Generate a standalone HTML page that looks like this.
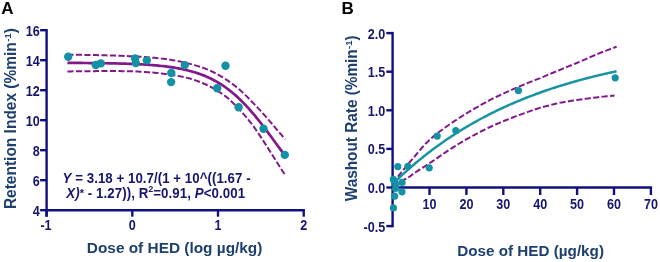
<!DOCTYPE html>
<html><head><meta charset="utf-8"><style>
html,body{margin:0;padding:0;background:#fff;width:660px;height:262px;overflow:hidden}
svg{display:block;font-family:"Liberation Sans",sans-serif;will-change:transform;filter:blur(0.35px)}
</style></head><body>
<svg width="660" height="262" viewBox="0 0 660 262">
<text x="1.2" y="13.6" font-size="17" font-weight="bold" fill="#000">A</text>
<text x="341.5" y="13.6" font-size="17" font-weight="bold" fill="#000">B</text>
<g stroke="#10107e" stroke-width="2.4" fill="none" stroke-linecap="butt">
<path d="M46.6,28.99999999999999 V216.7"/>
<path d="M45.4,210.2 H304.90000000000003"/>
<path d="M40.1,210.2 H46.6"/>
<path d="M40.1,180.2 H46.6"/>
<path d="M40.1,150.2 H46.6"/>
<path d="M40.1,120.19999999999999 H46.6"/>
<path d="M40.1,90.19999999999999 H46.6"/>
<path d="M40.1,60.19999999999999 H46.6"/>
<path d="M40.1,30.19999999999999 H46.6"/>
<path d="M46.6,210.2 V216.7"/>
<path d="M132.3,210.2 V216.7"/>
<path d="M218.0,210.2 V216.7"/>
<path d="M303.70000000000005,210.2 V216.7"/>
</g>
<g font-size="14" font-weight="bold" fill="#16166e" text-anchor="end">
<text transform="translate(39.7,215.60) scale(0.9,1)">4</text>
<text transform="translate(39.7,185.60) scale(0.9,1)">6</text>
<text transform="translate(39.7,155.60) scale(0.9,1)">8</text>
<text transform="translate(39.7,125.60) scale(0.9,1)">10</text>
<text transform="translate(39.7,95.60) scale(0.9,1)">12</text>
<text transform="translate(39.7,65.60) scale(0.9,1)">14</text>
<text transform="translate(39.7,35.60) scale(0.9,1)">16</text>
</g>
<g font-size="14" font-weight="bold" fill="#16166e" text-anchor="middle">
<text transform="translate(46.00,230.0) scale(0.9,1)">-1</text>
<text transform="translate(132.30,230.0) scale(0.9,1)">0</text>
<text transform="translate(218.00,230.0) scale(0.9,1)">1</text>
<text transform="translate(303.70,230.0) scale(0.9,1)">2</text>
</g>
<text transform="translate(174.6,253.3) scale(1,1.0)" font-size="15.4" font-weight="bold" fill="#1e406f" text-anchor="middle">Dose of HED (log µg/kg)</text>
<text transform="translate(15.7,118.6) rotate(-90) scale(1.006,1.04)" font-size="15.4" font-weight="bold" fill="#1e406f" text-anchor="middle">Retention Index (%min<tspan font-size="9.5" dx="0.4" dy="-4.9">-1</tspan><tspan dy="4.9">)</tspan></text>
<g font-size="13.3" font-weight="bold" fill="#16166e">
<text transform="translate(62.6,182.6) scale(1,1.04)" textLength="188" lengthAdjust="spacing"><tspan font-style="italic">Y</tspan> = 3.18 + 10.7/(1 + 10^((1.67 -</text>
<text transform="translate(66.2,197.6) scale(1,1.04)" textLength="179" lengthAdjust="spacing"><tspan font-style="italic">X)</tspan><tspan font-size="11" dy="-0.8">*</tspan><tspan dy="0.8"> - 1.27)), R</tspan><tspan font-size="8.5" dy="-5">2</tspan><tspan dy="5">=0.91, </tspan><tspan font-style="italic">P</tspan>&lt;0.001</text>
</g>
<g fill="none" stroke="#82188c" stroke-width="2.0">
<path d="M67.43,62.88 L69.24,62.89 L71.05,62.90 L72.87,62.91 L74.68,62.92 L76.50,62.93 L78.31,62.94 L80.12,62.95 L81.94,62.97 L83.75,62.98 L85.56,63.00 L87.38,63.01 L89.19,63.03 L91.01,63.04 L92.82,63.06 L94.63,63.08 L96.45,63.11 L98.26,63.13 L100.08,63.15 L101.89,63.18 L103.70,63.20 L105.52,63.23 L107.33,63.26 L109.15,63.30 L110.96,63.33 L112.77,63.37 L114.59,63.41 L116.40,63.45 L118.22,63.49 L120.03,63.54 L121.84,63.59 L123.66,63.65 L125.47,63.70 L127.29,63.76 L129.10,63.83 L130.91,63.90 L132.73,63.97 L134.54,64.04 L136.36,64.13 L138.17,64.21 L139.98,64.31 L141.80,64.40 L143.61,64.51 L145.43,64.62 L147.24,64.74 L149.05,64.86 L150.87,65.00 L152.68,65.14 L154.50,65.29 L156.31,65.45 L158.12,65.62 L159.94,65.80 L161.75,65.99 L163.57,66.19 L165.38,66.40 L167.19,66.63 L169.01,66.87 L170.82,67.13 L172.64,67.40 L174.45,67.69 L176.26,67.99 L178.08,68.32 L179.89,68.66 L181.71,69.02 L183.52,69.40 L185.33,69.81 L187.15,70.24 L188.96,70.69 L190.78,71.18 L192.59,71.68 L194.40,72.22 L196.22,72.79 L198.03,73.38 L199.85,74.02 L201.66,74.68 L203.47,75.38 L205.29,76.12 L207.10,76.90 L208.92,77.72 L210.73,78.58 L212.54,79.48 L214.36,80.44 L216.17,81.43 L217.99,82.48 L219.80,83.57 L221.61,84.72 L223.43,85.92 L225.24,87.17 L227.06,88.48 L228.87,89.85 L230.68,91.27 L232.50,92.75 L234.31,94.28 L236.13,95.88 L237.94,97.53 L239.75,99.25 L241.57,101.02 L243.38,102.85 L245.20,104.74 L247.01,106.68 L248.82,108.68 L250.64,110.73 L252.45,112.84 L254.27,114.99 L256.08,117.19 L257.89,119.43 L259.71,121.71 L261.52,124.03 L263.34,126.39 L265.15,128.77 L266.96,131.18 L268.78,133.61 L270.59,136.06 L272.41,138.52 L274.22,140.99 L276.03,143.46 L277.85,145.93 L279.66,148.40 L281.48,150.85 L283.29,153.29 L285.10,155.70" stroke-width="2.7"/>
<path d="M67.43,54.63 L69.24,54.66 L71.05,54.69 L72.87,54.71 L74.68,54.74 L76.50,54.77 L78.31,54.79 L80.12,54.82 L81.94,54.85 L83.75,54.88 L85.56,54.91 L87.38,54.95 L89.19,54.98 L91.01,55.01 L92.82,55.05 L94.63,55.09 L96.45,55.12 L98.26,55.16 L100.08,55.20 L101.89,55.25 L103.70,55.29 L105.52,55.34 L107.33,55.38 L109.15,55.43 L110.96,55.49 L112.77,55.54 L114.59,55.59 L116.40,55.65 L118.22,55.71 L120.03,55.78 L121.84,55.85 L123.66,55.92 L125.47,55.99 L127.29,56.07 L129.10,56.15 L130.91,56.23 L132.73,56.32 L134.54,56.42 L136.36,56.52 L138.17,56.62 L139.98,56.73 L141.80,56.85 L143.61,56.97 L145.43,57.10 L147.24,57.24 L149.05,57.38 L150.87,57.53 L152.68,57.69 L154.50,57.86 L156.31,58.04 L158.12,58.22 L159.94,58.42 L161.75,58.63 L163.57,58.85 L165.38,59.08 L167.19,59.33 L169.01,59.59 L170.82,59.86 L172.64,60.15 L174.45,60.46 L176.26,60.78 L178.08,61.12 L179.89,61.48 L181.71,61.86 L183.52,62.27 L185.33,62.69 L187.15,63.14 L188.96,63.61 L190.78,64.11 L192.59,64.62 L194.40,65.10 L196.22,65.60 L198.03,66.13 L199.85,66.70 L201.66,67.30 L203.47,67.94 L205.29,68.62 L207.10,69.33 L208.92,70.09 L210.73,70.88 L212.54,71.73 L214.36,72.61 L216.17,73.55 L217.99,74.53 L219.80,75.56 L221.61,76.64 L223.43,77.78 L225.24,78.97 L227.06,80.19 L228.87,81.39 L230.68,82.66 L232.50,83.98 L234.31,85.36 L236.13,86.79 L237.94,88.29 L239.75,89.84 L241.57,91.46 L243.38,93.13 L245.20,94.86 L247.01,96.64 L248.82,98.48 L250.64,100.38 L252.45,102.30 L254.27,104.12 L256.08,105.99 L257.89,107.89 L259.71,109.84 L261.52,111.83 L263.34,113.85 L265.15,115.90 L266.96,117.98 L268.78,120.07 L270.59,122.19 L272.41,124.31 L274.22,126.45 L276.03,128.59 L277.85,130.72 L279.66,132.85 L281.48,134.97 L283.29,137.07 L285.10,139.20" stroke-dasharray="6.1,2.4"/>
<path d="M67.43,71.43 L69.24,71.40 L71.05,71.38 L72.87,71.35 L74.68,71.33 L76.50,71.31 L78.31,71.29 L80.12,71.26 L81.94,71.24 L83.75,71.22 L85.56,71.21 L87.38,71.19 L89.19,71.17 L91.01,71.16 L92.82,71.14 L94.63,71.13 L96.45,71.12 L98.26,71.10 L100.08,71.10 L101.89,71.09 L103.70,71.08 L105.52,71.08 L107.33,71.07 L109.15,71.07 L110.96,71.07 L112.77,71.08 L114.59,71.08 L116.40,71.09 L118.22,71.10 L120.03,71.12 L121.84,71.13 L123.66,71.15 L125.47,71.18 L127.29,71.21 L129.10,71.24 L130.91,71.27 L132.73,71.32 L134.54,71.41 L136.36,71.50 L138.17,71.59 L139.98,71.69 L141.80,71.80 L143.61,71.92 L145.43,72.04 L147.24,72.16 L149.05,72.30 L150.87,72.44 L152.68,72.59 L154.50,72.75 L156.31,72.92 L158.12,73.10 L159.94,73.28 L161.75,73.48 L163.57,73.70 L165.38,73.92 L167.19,74.16 L169.01,74.41 L170.82,74.67 L172.64,74.95 L174.45,75.25 L176.26,75.56 L178.08,75.89 L179.89,76.25 L181.71,76.62 L183.52,77.01 L185.33,77.43 L187.15,77.86 L188.96,78.33 L190.78,78.82 L192.59,79.34 L194.40,79.95 L196.22,80.59 L198.03,81.26 L199.85,81.96 L201.66,82.70 L203.47,83.47 L205.29,84.28 L207.10,85.13 L208.92,86.02 L210.73,86.96 L212.54,87.93 L214.36,88.95 L216.17,90.02 L217.99,91.14 L219.80,92.31 L221.61,93.53 L223.43,94.80 L225.24,96.12 L227.06,97.54 L228.87,99.11 L230.68,100.75 L232.50,102.44 L234.31,104.19 L236.13,105.99 L237.94,107.86 L239.75,109.79 L241.57,111.77 L243.38,113.81 L245.20,115.91 L247.01,118.07 L248.82,120.28 L250.64,122.54 L252.45,124.87 L254.27,127.44 L256.08,130.04 L257.89,132.70 L259.71,135.39 L261.52,138.12 L263.34,140.88 L265.15,143.68 L266.96,146.50 L268.78,149.34 L270.59,152.19 L272.41,155.06 L274.22,157.94 L276.03,160.82 L277.85,163.70 L279.66,166.58 L281.48,169.44 L283.29,172.28 L285.10,175.05" stroke-dasharray="6.1,2.4"/>
</g>
<g fill="#1591a6">
<circle cx="68.2" cy="56.8" r="4.2"/>
<circle cx="95.8" cy="65" r="4.2"/>
<circle cx="100.8" cy="63.4" r="4.2"/>
<circle cx="135.1" cy="58.5" r="4.2"/>
<circle cx="135.8" cy="63.1" r="4.2"/>
<circle cx="146.8" cy="60.4" r="4.2"/>
<circle cx="171.3" cy="73" r="4.2"/>
<circle cx="171.1" cy="82.1" r="4.2"/>
<circle cx="184.8" cy="65.1" r="4.2"/>
<circle cx="217.2" cy="88.3" r="4.2"/>
<circle cx="225.5" cy="65.8" r="4.2"/>
<circle cx="238.6" cy="107.3" r="4.2"/>
<circle cx="263.5" cy="128.8" r="4.2"/>
<circle cx="284.8" cy="154.9" r="4.2"/>
</g>
<g stroke="#10107e" stroke-width="2.4" fill="none">
<path d="M392.6,31.899999999999995 V227.29999999999998"/>
<path d="M392.6,187.5 H652.1000000000001"/>
<path d="M386.3,226.10 H392.6"/>
<path d="M386.3,187.50 H392.6"/>
<path d="M386.3,148.90 H392.6"/>
<path d="M386.3,110.30 H392.6"/>
<path d="M386.3,71.70 H392.6"/>
<path d="M386.3,33.10 H392.6"/>
<path d="M429.50,187.5 V195.0"/>
<path d="M466.40,187.5 V195.0"/>
<path d="M503.30,187.5 V195.0"/>
<path d="M540.20,187.5 V195.0"/>
<path d="M577.10,187.5 V195.0"/>
<path d="M614.00,187.5 V195.0"/>
<path d="M650.90,187.5 V195.0"/>
</g>
<g font-size="14" font-weight="bold" fill="#16166e" text-anchor="end">
<text transform="translate(385.3,231.50) scale(0.9,1)">-0.5</text>
<text transform="translate(385.3,192.90) scale(0.9,1)">0.0</text>
<text transform="translate(385.3,154.30) scale(0.9,1)">0.5</text>
<text transform="translate(385.3,115.70) scale(0.9,1)">1.0</text>
<text transform="translate(385.3,77.10) scale(0.9,1)">1.5</text>
<text transform="translate(385.3,38.50) scale(0.9,1)">2.0</text>
</g>
<g font-size="14" font-weight="bold" fill="#16166e" text-anchor="middle">
<text transform="translate(429.50,209.0) scale(0.9,1)">10</text>
<text transform="translate(466.40,209.0) scale(0.9,1)">20</text>
<text transform="translate(503.30,209.0) scale(0.9,1)">30</text>
<text transform="translate(540.20,209.0) scale(0.9,1)">40</text>
<text transform="translate(577.10,209.0) scale(0.9,1)">50</text>
<text transform="translate(614.00,209.0) scale(0.9,1)">60</text>
<text transform="translate(650.90,209.0) scale(0.9,1)">70</text>
</g>
<text transform="translate(530.6,255.5) scale(0.99,1.0)" font-size="15.4" font-weight="bold" fill="#1e406f" text-anchor="middle">Dose of HED (µg/kg)</text>
<text transform="translate(357.2,118.3) rotate(-90) scale(0.997,1.04)" font-size="15.4" font-weight="bold" fill="#1e406f" text-anchor="middle">Washout Rate (%min<tspan font-size="9.5" dx="0.4" dy="-4.9">-1</tspan><tspan dy="4.9">)</tspan></text>
<g fill="none" stroke="#82188c" stroke-width="2.0" stroke-dasharray="6.1,2.4">
<path d="M392.80,183.45 L394.20,181.81 L395.60,179.93 L397.00,178.05 L398.40,176.19 L399.79,174.35 L401.19,172.51 L402.59,170.73 L403.99,169.03 L405.39,167.34 L406.79,165.66 L408.19,163.99 L409.59,162.34 L410.98,160.70 L412.38,159.04 L413.78,157.39 L415.18,155.75 L416.58,154.11 L417.98,152.45 L419.38,150.79 L420.78,149.15 L422.17,147.52 L423.57,145.90 L424.97,144.29 L426.37,142.96 L427.77,141.65 L429.17,140.35 L430.57,139.05 L431.97,137.77 L433.36,136.50 L434.76,135.24 L436.16,134.14 L437.56,133.08 L438.96,132.03 L440.36,131.00 L441.76,129.97 L443.16,128.95 L444.55,127.94 L445.95,126.94 L447.35,125.95 L448.75,124.97 L450.15,124.00 L451.55,123.05 L452.95,122.10 L454.35,121.17 L455.74,120.24 L457.14,119.32 L458.54,118.41 L459.94,117.51 L461.34,116.62 L462.74,115.73 L464.14,114.85 L465.54,113.99 L466.93,113.12 L468.33,112.27 L469.73,111.43 L471.13,110.59 L472.53,109.76 L473.93,108.94 L475.33,108.12 L476.73,107.32 L478.12,106.52 L479.52,105.73 L480.92,104.94 L482.32,104.17 L483.72,103.40 L485.12,102.63 L486.52,101.88 L487.92,101.13 L489.31,100.39 L490.71,99.66 L492.11,98.96 L493.51,98.27 L494.91,97.58 L496.31,96.90 L497.71,96.23 L499.11,95.56 L500.50,94.90 L501.90,94.25 L503.30,93.60 L504.70,92.95 L506.10,92.32 L507.50,91.69 L508.90,91.06 L510.30,90.44 L511.69,89.81 L513.09,89.19 L514.49,88.57 L515.89,87.95 L517.29,87.34 L518.69,86.74 L520.09,86.15 L521.49,85.55 L522.88,84.97 L524.28,84.39 L525.68,83.81 L527.08,83.24 L528.48,82.68 L529.88,82.12 L531.28,81.57 L532.67,81.02 L534.07,80.48 L535.47,79.94 L536.87,79.40 L538.27,78.87 L539.67,78.35 L541.07,77.76 L542.47,77.15 L543.87,76.55 L545.26,75.95 L546.66,75.36 L548.06,74.77 L549.46,74.19 L550.86,73.61 L552.26,73.03 L553.66,72.46 L555.06,71.89 L556.45,71.33 L557.85,70.77 L559.25,70.22 L560.65,69.65 L562.05,69.04 L563.45,68.45 L564.85,67.85 L566.25,67.27 L567.64,66.68 L569.04,66.10 L570.44,65.52 L571.84,64.95 L573.24,64.38 L574.64,63.82 L576.04,63.26 L577.44,62.70 L578.83,62.14 L580.23,61.58 L581.63,60.95 L583.03,60.32 L584.43,59.70 L585.83,59.08 L587.23,58.46 L588.62,57.85 L590.02,57.24 L591.42,56.64 L592.82,56.03 L594.22,55.44 L595.62,54.84 L597.02,54.25 L598.42,53.66 L599.82,53.07 L601.21,52.52 L602.61,51.98 L604.01,51.44 L605.41,50.91 L606.81,50.37 L608.21,49.84 L609.61,49.32 L611.00,48.80 L612.40,48.27 L613.80,47.76 L615.20,47.24 L616.60,46.73"/>
<path d="M392.80,184.45 L394.19,183.47 L395.57,182.88 L396.96,182.30 L398.35,181.74 L399.73,181.19 L401.12,180.65 L402.50,180.13 L403.89,179.61 L405.28,179.11 L406.66,178.62 L408.05,177.72 L409.44,176.70 L410.82,175.69 L412.21,174.68 L413.59,173.69 L414.98,172.71 L416.37,171.76 L417.75,170.85 L419.14,169.95 L420.53,169.06 L421.91,168.18 L423.30,167.31 L424.68,166.46 L426.07,165.53 L427.46,164.58 L428.84,163.65 L430.23,162.72 L431.62,161.81 L433.00,160.91 L434.39,160.01 L435.77,159.07 L437.16,158.08 L438.55,157.10 L439.93,156.13 L441.32,155.17 L442.71,154.22 L444.09,153.27 L445.48,152.34 L446.86,151.42 L448.25,150.50 L449.64,149.60 L451.02,148.70 L452.41,147.81 L453.80,146.93 L455.18,146.06 L456.57,145.20 L457.95,144.35 L459.34,143.50 L460.73,142.66 L462.11,141.83 L463.50,141.01 L464.88,140.20 L466.27,139.39 L467.66,138.60 L469.04,137.81 L470.43,137.03 L471.82,136.27 L473.20,135.52 L474.59,134.78 L475.98,134.05 L477.36,133.32 L478.75,132.60 L480.13,131.89 L481.52,131.19 L482.91,130.49 L484.29,129.80 L485.68,129.11 L487.07,128.44 L488.45,127.77 L489.84,127.10 L491.22,126.47 L492.61,125.85 L494.00,125.23 L495.38,124.62 L496.77,124.02 L498.15,123.42 L499.54,122.83 L500.93,122.25 L502.31,121.67 L503.70,121.10 L505.09,120.53 L506.47,119.97 L507.86,119.42 L509.25,118.87 L510.63,118.32 L512.02,117.77 L513.40,117.23 L514.79,116.69 L516.18,116.16 L517.56,115.63 L518.95,115.11 L520.34,114.59 L521.72,114.08 L523.11,113.58 L524.49,113.07 L525.88,112.58 L527.27,112.09 L528.65,111.61 L530.04,111.13 L531.42,110.65 L532.81,110.18 L534.20,109.72 L535.58,109.26 L536.97,108.80 L538.36,108.35 L539.74,107.91 L541.13,107.51 L542.51,107.13 L543.90,106.76 L545.29,106.39 L546.67,106.02 L548.06,105.66 L549.45,105.30 L550.83,104.95 L552.22,104.60 L553.61,104.26 L554.99,103.92 L556.38,103.58 L557.76,103.25 L559.15,102.92 L560.54,102.63 L561.92,102.39 L563.31,102.15 L564.70,101.92 L566.08,101.69 L567.47,101.46 L568.85,101.24 L570.24,101.02 L571.63,100.80 L573.01,100.59 L574.40,100.38 L575.79,100.18 L577.17,99.98 L578.56,99.79 L579.94,99.59 L581.33,99.39 L582.72,99.19 L584.10,99.00 L585.49,98.80 L586.88,98.62 L588.26,98.43 L589.65,98.25 L591.03,98.07 L592.42,97.89 L593.81,97.72 L595.19,97.55 L596.58,97.39 L597.97,97.23 L599.35,97.07 L600.74,96.92 L602.12,96.77 L603.51,96.63 L604.90,96.49 L606.28,96.35 L607.67,96.21 L609.06,96.08 L610.44,95.95 L611.83,95.83 L613.21,95.71 L614.60,95.59"/>
</g>
<path d="M392.80,183.95 L394.20,182.58 L395.60,181.22 L397.00,179.87 L398.40,178.54 L399.79,177.22 L401.19,175.91 L402.59,174.61 L403.99,173.33 L405.39,172.06 L406.79,170.80 L408.19,169.55 L409.59,168.31 L410.98,167.09 L412.38,165.88 L413.78,164.68 L415.18,163.49 L416.58,162.31 L417.98,161.15 L419.38,159.99 L420.78,158.85 L422.17,157.72 L423.57,156.60 L424.97,155.48 L426.37,154.38 L427.77,153.29 L429.17,152.21 L430.57,151.14 L431.97,150.09 L433.36,149.04 L434.76,148.00 L436.16,146.97 L437.56,145.95 L438.96,144.94 L440.36,143.94 L441.76,142.95 L443.16,141.97 L444.55,141.00 L445.95,140.04 L447.35,139.08 L448.75,138.14 L450.15,137.21 L451.55,136.28 L452.95,135.36 L454.35,134.45 L455.74,133.56 L457.14,132.66 L458.54,131.78 L459.94,130.91 L461.34,130.04 L462.74,129.19 L464.14,128.34 L465.54,127.50 L466.93,126.66 L468.33,125.84 L469.73,125.02 L471.13,124.21 L472.53,123.41 L473.93,122.62 L475.33,121.83 L476.73,121.05 L478.12,120.28 L479.52,119.52 L480.92,118.76 L482.32,118.01 L483.72,117.27 L485.12,116.54 L486.52,115.81 L487.92,115.09 L489.31,114.37 L490.71,113.66 L492.11,112.96 L493.51,112.27 L494.91,111.58 L496.31,110.90 L497.71,110.23 L499.11,109.56 L500.50,108.90 L501.90,108.25 L503.30,107.60 L504.70,106.95 L506.10,106.32 L507.50,105.69 L508.90,105.06 L510.30,104.45 L511.69,103.83 L513.09,103.23 L514.49,102.63 L515.89,102.03 L517.29,101.44 L518.69,100.86 L520.09,100.28 L521.49,99.71 L522.88,99.14 L524.28,98.58 L525.68,98.02 L527.08,97.47 L528.48,96.93 L529.88,96.39 L531.28,95.85 L532.67,95.32 L534.07,94.80 L535.47,94.28 L536.87,93.76 L538.27,93.25 L539.67,92.75 L541.07,92.25 L542.47,91.75 L543.87,91.26 L545.26,90.77 L546.66,90.29 L548.06,89.82 L549.46,89.34 L550.86,88.87 L552.26,88.41 L553.66,87.95 L555.06,87.50 L556.45,87.05 L557.85,86.60 L559.25,86.16 L560.65,85.72 L562.05,85.29 L563.45,84.86 L564.85,84.44 L566.25,84.02 L567.64,83.60 L569.04,83.19 L570.44,82.78 L571.84,82.37 L573.24,81.97 L574.64,81.57 L576.04,81.18 L577.44,80.79 L578.83,80.40 L580.23,80.02 L581.63,79.64 L583.03,79.27 L584.43,78.90 L585.83,78.53 L587.23,78.17 L588.62,77.80 L590.02,77.45 L591.42,77.09 L592.82,76.74 L594.22,76.39 L595.62,76.05 L597.02,75.71 L598.42,75.37 L599.82,75.04 L601.21,74.71 L602.61,74.38 L604.01,74.06 L605.41,73.73 L606.81,73.42 L608.21,73.10 L609.61,72.79 L611.00,72.48 L612.40,72.17 L613.80,71.87 L615.20,71.57 L616.60,71.27" fill="none" stroke="#1a93a3" stroke-width="2.5"/>
<g fill="#1591a6">
<circle cx="393.3" cy="179.4" r="3.6"/>
<circle cx="402.1" cy="182.4" r="3.6"/>
<circle cx="395.8" cy="184.5" r="3.6"/>
<circle cx="395.6" cy="188.5" r="3.6"/>
<circle cx="402.0" cy="191.8" r="3.6"/>
<circle cx="394.6" cy="196.2" r="3.6"/>
<circle cx="393.4" cy="207.9" r="3.6"/>
<circle cx="397.8" cy="166.6" r="3.6"/>
<circle cx="407.9" cy="166.3" r="3.6"/>
<circle cx="429.2" cy="167.8" r="3.6"/>
<circle cx="437.2" cy="136.1" r="3.6"/>
<circle cx="455.8" cy="130.6" r="3.6"/>
<circle cx="518.4" cy="90.6" r="3.6"/>
<circle cx="615.2" cy="77.8" r="3.6"/>
</g>
</svg>
</body></html>
